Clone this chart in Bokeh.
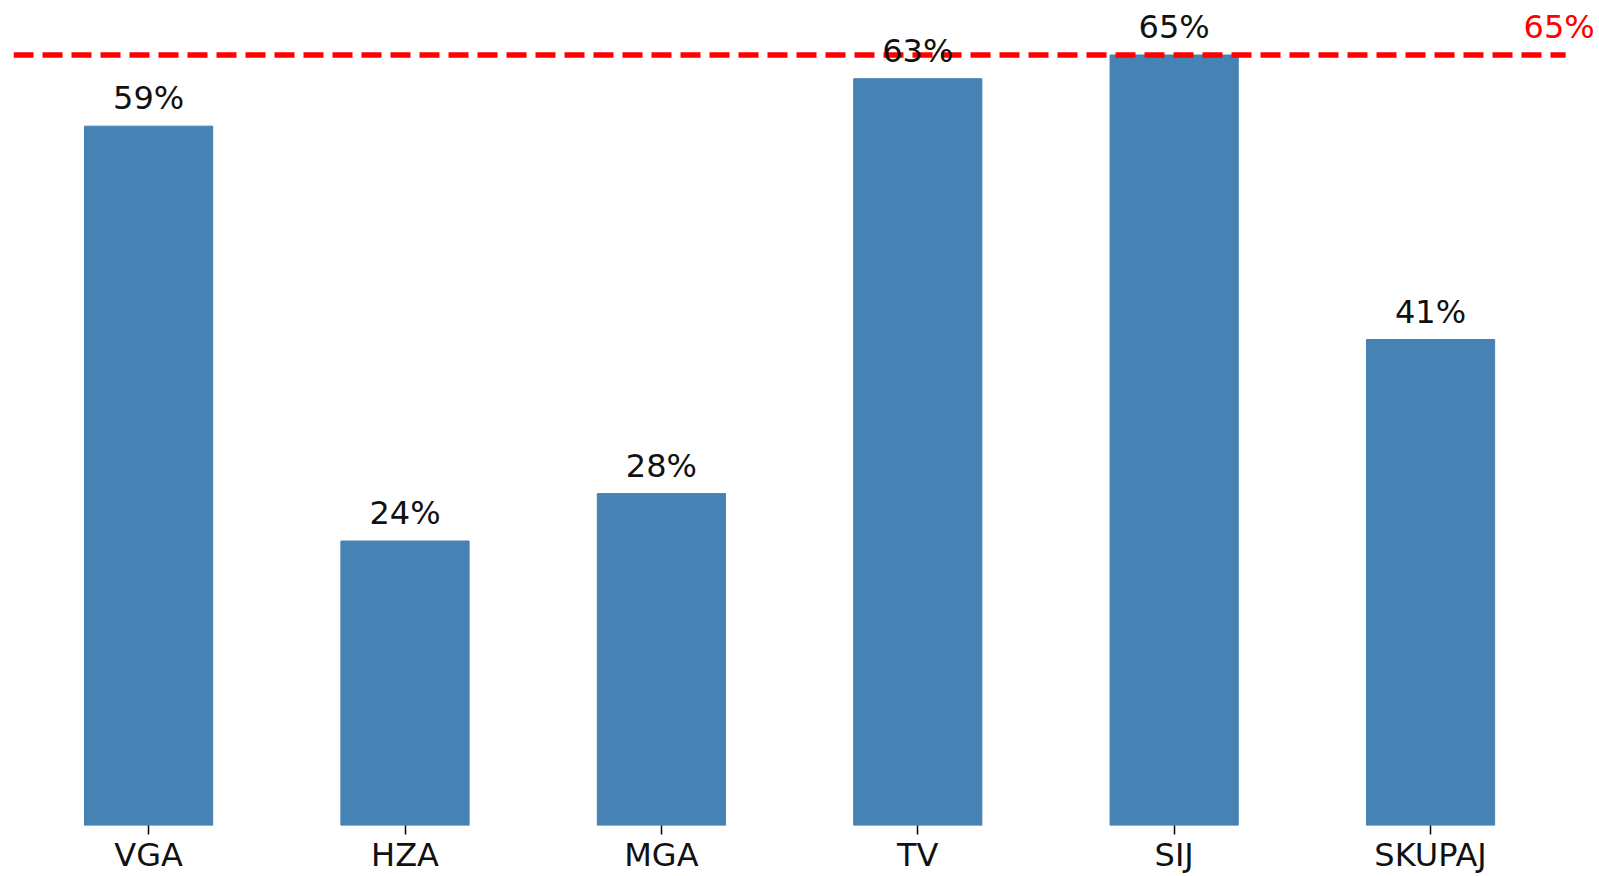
from bokeh.plotting import figure
from bokeh.models import Range1d, ColumnDataSource, FixedTicker
from bokeh.embed import file_html
from bokeh.resources import INLINE
from bokeh.core.properties import value

categories = ["VGA", "HZA", "MGA", "TV", "SIJ", "SKUPAJ"]
values = [59, 24, 28, 63, 65, 41]
labels = [f"{v:.0f}%" for v in values]
target = 65
target_label = f"{target}%"

FONT = "DejaVu Sans"

xs = list(range(len(categories)))
source = ColumnDataSource(dict(x=xs, val=values, lab=labels))

pad = 0.527
x_start = xs[0] - pad
x_line_end = xs[-1] + pad

p = figure(
    width=1599, height=876,
    x_range=Range1d(x_start, xs[-1] + 0.659),
    y_range=Range1d(0, 69.6),
    output_backend="svg", toolbar_location=None,
    min_border_left=13, min_border_right=0, min_border_top=0, min_border_bottom=0,
)

p.vbar(x="x", top="val", width=0.5, source=source,
       fill_color="#4682B4", line_color="#4682B4", line_width=1)

# target line across the axes
p.segment(x0=[x_start], y0=[target], x1=[x_line_end], y1=[target],
          line_color="red", line_dash="20 9", line_width=5.5)

p.text(x="x", y="val", text="lab", source=source, y_offset=-28,
       text_align="center", text_baseline="alphabetic",
       text_font=value(FONT), text_font_size="32px", text_color="#111111")

p.text(x=[xs[-1] + 0.363], y=[target], text=[target_label], y_offset=-28,
       text_align="left", text_baseline="alphabetic",
       text_font=value(FONT), text_font_size="32px", text_color="red")

p.yaxis.visible = False
p.xgrid.visible = False
p.ygrid.visible = False
p.outline_line_color = None
p.xaxis.ticker = FixedTicker(ticks=xs)
p.xaxis.major_label_overrides = {i: c for i, c in zip(xs, categories)}
p.xaxis.axis_line_color = None
p.xaxis.major_tick_line_color = "black"
p.xaxis.major_tick_line_width = 1.5
p.xaxis.major_tick_out = 9
p.xaxis.major_tick_in = 0
p.xaxis.minor_tick_line_color = None
p.xaxis.major_label_text_font = FONT
p.xaxis.major_label_text_font_size = "32px"
p.xaxis.major_label_text_color = "#111111"
p.xaxis.major_label_standoff = 1

open("out.html", "w").write(file_html(p, INLINE))
